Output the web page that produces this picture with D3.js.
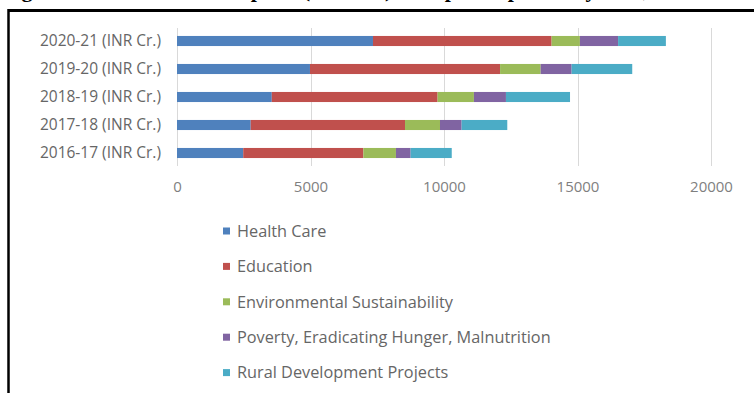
<!DOCTYPE html>
<html>
<head>
<meta charset="utf-8">
<script src="https://cdn.jsdelivr.net/npm/d3@7"></script>
<style>
  body { margin: 0; background: #fff; }
  svg { display: block; }
</style>
</head>
<body>
<div id="chart"></div>
<script>
// years, top row first
var years = ["2020-21 (INR Cr.)", "2019-20 (INR Cr.)", "2018-19 (INR Cr.)", "2017-18 (INR Cr.)", "2016-17 (INR Cr.)"];
var sectors = ["Health Care", "Education", "Environmental Sustainability", "Poverty, Eradicating Hunger, Malnutrition", "Rural Development Projects"];
var healthCare = [7340, 4980, 3550, 2760, 2480];
var education = [6690, 7120, 6210, 5780, 4500];
var environment = [1060, 1520, 1360, 1310, 1220];
var poverty = [1430, 1160, 1200, 810, 550];
var rural = [1790, 2270, 2400, 1710, 1540];
var xTicks = [0, 5000, 10000, 15000, 20000];
var colors = ["#4f81bd", "#c0504d", "#9bbb59", "#8064a2", "#4bacc6"];

var width = 754, height = 393;

var svg = d3.select("#chart").append("svg")
  .attr("width", width)
  .attr("height", height);

// title of the page above, mostly cut off
svg.append("text")
  .attr("x", 2)
  .attr("y", -3)
  .style("font-family", "Liberation Serif")
  .style("font-weight", "bold")
  .style("font-size", "22px")
  .text("Figure: Sector-wise CSR Spend (INR Cr.) of Top Companies by Year, 2016-2021");

// frame
svg.append("line").attr("x1", 8).attr("x2", 754).attr("y1", 10.5).attr("y2", 10.5)
  .attr("stroke", "#000").attr("stroke-width", 3);
svg.append("line").attr("x1", 8.5).attr("x2", 8.5).attr("y1", 9).attr("y2", 393)
  .attr("stroke", "#000").attr("stroke-width", 2.5);

var data = years.map(function (y, i) {
  return {year: y, values: [healthCare[i], education[i], environment[i], poverty[i], rural[i]]};
});

var xScale = d3.scaleLinear().domain([0, 20000]).range([177, 711]);
var yScale = d3.scaleBand().domain(years).range([27, 167]).paddingInner(0.64).paddingOuter(0.32);

var g = svg.append("g");

// gridlines
g.selectAll(".grid").data(xTicks).enter().append("line")
  .attr("class", "grid")
  .attr("x1", function (d) { return Math.round(xScale(d)) + 0.5; })
  .attr("x2", function (d) { return Math.round(xScale(d)) + 0.5; })
  .attr("y1", 28).attr("y2", 166)
  .attr("stroke", "#d9d9d9").attr("stroke-width", 1);

// x axis labels
var xAxis = g.append("g")
  .attr("transform", "translate(0,178)")
  .call(d3.axisBottom(xScale).tickValues(xTicks).tickSize(0).tickFormat(d3.format("d")));
xAxis.select(".domain").remove();
xAxis.selectAll("text")
  .attr("fill", "#7f7f7f")
  .style("font-family", "Open Sans")
  .style("font-size", "15px");

// y axis labels
var yAxis = g.append("g")
  .attr("transform", "translate(161,0)")
  .call(d3.axisLeft(yScale).tickSize(0).tickPadding(0));
yAxis.select(".domain").remove();
yAxis.selectAll("text")
  .attr("fill", "#666")
  .style("font-family", "Open Sans")
  .style("font-size", "15.5px");

// stacked bars
var rows = g.selectAll(".row").data(data).enter().append("g").attr("class", "row");
rows.each(function (d) {
  var start = 0;
  var segs = d.values.map(function (v, k) {
    var s = {x0: start, x1: start + v, k: k};
    start += v;
    return s;
  });
  d3.select(this).selectAll("rect").data(segs).enter().append("rect")
    .attr("x", function (s) { return xScale(s.x0); })
    .attr("width", function (s) { return xScale(s.x1) - xScale(s.x0); })
    .attr("y", yScale(d.year))
    .attr("height", yScale.bandwidth())
    .attr("fill", function (s) { return colors[s.k]; });
});

// legend
var legend = g.selectAll(".legend").data(sectors).enter().append("g")
  .attr("class", "legend")
  .attr("transform", function (d, i) { return "translate(223," + (231 + i * 35.4) + ")"; });
legend.append("rect")
  .attr("x", 0).attr("y", -3.5).attr("width", 7).attr("height", 7)
  .attr("fill", function (d, i) { return colors[i]; });
legend.append("text")
  .attr("x", 14).attr("dy", "0.35em")
  .attr("fill", "#666")
  .style("font-family", "Open Sans")
  .style("font-size", "16.3px")
  .text(function (d) { return d; });
</script>
</body>
</html>
